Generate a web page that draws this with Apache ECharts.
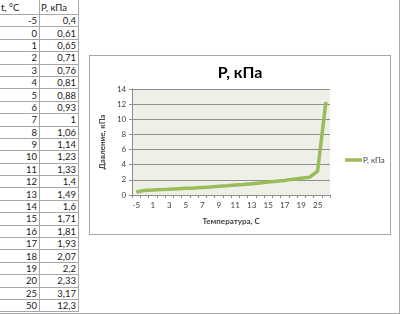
<!DOCTYPE html>
<html>
<head>
<meta charset="utf-8">
<script src="https://cdn.jsdelivr.net/npm/echarts@6/dist/echarts.min.js"></script>
<style>
  html, body { margin:0; padding:0; background:#fff; }
  body { width:400px; height:314px; position:relative; overflow:hidden; font-family: Lato, "Liberation Sans", sans-serif; }
  #frameR { position:absolute; left:399px; top:0; width:1px; height:314px; background:#a8a8a8; }
  #frameB { position:absolute; left:0; top:313px; width:400px; height:1px; background:#a8a8a8; }
  table { position:absolute; left:0; top:0; border-collapse:collapse; font-size:9.5px; color:#1a1a1a; table-layout:fixed; }
  td { border:1px solid #a8a8a8; padding:0 2px; line-height:11px; height:11.4px; white-space:nowrap; overflow:hidden; }
  td.a { width:35px; border-left:none; text-align:right; }
  td.b { width:34px; text-align:right; }
  tr.h td { text-align:left; height:14px; border-top:none; padding-left:1px; }
  #chartBox { position:absolute; left:89px; top:55px; width:300px; height:178px; border:1px solid #a6a6a6; background:#fff; }
  #chart { width:300px; height:178px; }
</style>
</head>
<body>
<table id="tbl"></table>
<div id="chartBox"><div id="chart"></div></div>
<div id="frameR"></div>
<div id="frameB"></div>
<script>
const headers = ['t, °C', 'Р, кПа'];
const categories = ['-5','0','1','2','3','4','5','6','7','8','9','10','11','12','13','14','15','16','17','18','19','20','25','50'];
const values = [0.4,0.61,0.65,0.71,0.76,0.81,0.88,0.93,1,1.06,1.14,1.23,1.33,1.4,1.49,1.6,1.71,1.81,1.93,2.07,2.2,2.33,3.17,12.3];
const chartTitle = 'Р, кПа';
const xTitle = 'Температура, С';
const yTitle = 'Давление, кПа';
const seriesName = 'Р, кПа';

// table
const tbl = document.getElementById('tbl');
let html = '<tr class="h"><td class="a" style="text-align:left">' + headers[0] + '</td><td class="b" style="text-align:left">' + headers[1] + '</td></tr>';
for (let i = 0; i < categories.length; i++) {
  html += '<tr><td class="a">' + categories[i] + '</td><td class="b">' + String(values[i]).replace('.', ',') + '</td></tr>';
}
tbl.innerHTML = html;

const font = 'Lato, "Liberation Sans", sans-serif';
const chart = echarts.init(document.getElementById('chart'), null, { renderer: 'canvas' });
chart.setOption({
  animation: false,
  title: {
    text: chartTitle,
    left: 'center',
    top: 4,
    textStyle: { fontFamily: font, fontSize: 16, fontWeight: 'bold', color: '#000' }
  },
  legend: {
    orient: 'vertical',
    left: 250,
    top: 95,
    icon: 'rect',
    itemWidth: 17,
    itemHeight: 3.5,
    itemGap: 4,
    textStyle: { fontFamily: font, fontSize: 8, color: '#404040', padding: [0, 0, 0, -4] },
    data: [seriesName]
  },
  grid: {
    left: 37, right: 60, top: 33, bottom: 39,
    show: true, backgroundColor: '#eef0e7', borderWidth: 0
  },
  xAxis: {
    type: 'category',
    data: categories,
    boundaryGap: true,
    name: xTitle,
    nameLocation: 'middle',
    nameGap: 22,
    nameTextStyle: { fontFamily: font, fontSize: 8, fontWeight: 'bold', color: '#404040' },
    axisLine: { lineStyle: { color: '#8c8c8c', width: 1 } },
    axisTick: { show: true, interval: 0, length: 3, lineStyle: { color: '#8c8c8c' } },
    axisLabel: { interval: 1, fontFamily: font, fontSize: 8, color: '#404040', margin: 6 },
    splitLine: { show: false }
  },
  yAxis: {
    type: 'value',
    min: 0, max: 14, interval: 2,
    name: yTitle,
    nameLocation: 'middle',
    nameGap: 21,
    nameRotate: 90,
    nameTextStyle: { fontFamily: font, fontSize: 8, fontWeight: 'bold', color: '#404040' },
    axisLine: { show: true, lineStyle: { color: '#8c8c8c', width: 1 } },
    axisTick: { show: true, length: 3, lineStyle: { color: '#8c8c8c' } },
    axisLabel: { fontFamily: font, fontSize: 8, color: '#404040', margin: 6 },
    splitLine: { show: true, lineStyle: { color: '#8f8f8f', width: 1 } }
  },
  series: [{
    name: seriesName,
    type: 'line',
    data: values,
    symbol: 'none',
    itemStyle: { color: '#9bbb59' },
    lineStyle: { color: '#9bbb59', width: 3.5 }
  }]
});
</script>
</body>
</html>
